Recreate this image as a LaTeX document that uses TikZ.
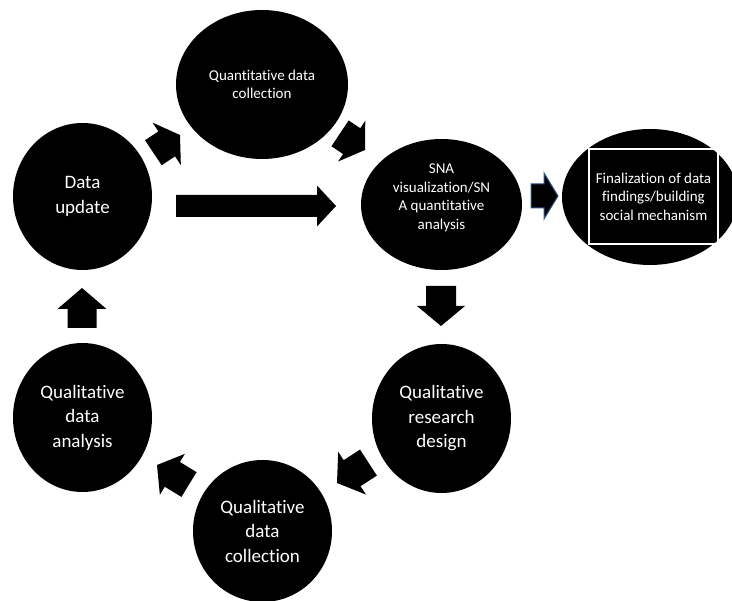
\documentclass[tikz,border=0pt]{standalone}
\usepackage{fontspec}
\setmainfont{Carlito}[Ligatures=NoCommon]
\usetikzlibrary{shapes.geometric}

\definecolor{arrowblue}{RGB}{47,82,143}

\tikzset{
  stage/.style={ellipse, fill=black, text=white, inner sep=0pt, align=center},
  bigtext/.style={font=\fontsize{19}{24.5}\selectfont},
  smalltext/.style={font=\fontsize{15}{18.5}\selectfont}
}

% block arrow: [options]{name}{tip}{angle}{length}{shaft}{head width}{head length}
\newcommand{\blockarrow}[8][fill=black]{%
  \begin{scope}[shift={#3}, rotate=#4]
    \coordinate (#2) at (0,0);
    \filldraw[#1] (#2) -- (-#8,#7/2) -- (-#8,#6/2) -- (-#5,#6/2)
      -- (-#5,-#6/2) -- (-#8,-#6/2) -- (-#8,-#7/2) -- cycle;
  \end{scope}}

\begin{document}
\begin{tikzpicture}[x=1pt, y=-1pt]
\useasboundingbox (0,0) rectangle (732,601);
\clip (0,0) rectangle (732,601);

% stages of the cycle
\node[stage, smalltext, minimum width=172, minimum height=149] (quant) at (262,84.5) {Quantitative data\\collection};
\node[stage, bigtext, minimum width=139, minimum height=147] (update) at (82.5,196.5) {Data\\update};
\node[stage, minimum width=161, minimum height=131] (sna) at (441.5,204.5) {};
\node[text=white, smalltext, align=center] (snatext) at (441.5,198) {SNA\\visualization/SN\\A quantitative\\analysis};
\node[stage, bigtext, minimum width=139, minimum height=149] (design) at (441.5,418.5) {Qualitative\\research\\design};
\node[stage, bigtext, minimum width=139, minimum height=149] (analysis) at (82.5,417.5) {Qualitative\\data\\analysis};
\node[stage, bigtext, minimum width=139, minimum height=142] (collect) at (262.5,531) {Qualitative\\data\\collection};

% final stage
\node[stage, minimum width=176, minimum height=136] (final) at (650,197) {};
\node[draw=white, line width=1.2pt, text=white, smalltext, align=center,
  minimum width=129, minimum height=95, inner sep=0pt] (finalbox) at (653.5,196.5)
  {Finalization of data\\findings/building\\social mechanism};

% block arrows
\blockarrow[fill=black, draw=none]{a1}{(180,135)}{33.7}{32}{30}{51}{16}
\blockarrow[fill=black, draw=none]{a2}{(365,150)}{-33.7}{30}{31}{49}{16}
\blockarrow[fill=black, draw=none]{a3}{(336,206)}{0}{160}{22}{41}{19}
\blockarrow[fill=black, draw=arrowblue, line width=1pt]{a4}{(558,196)}{0}{27}{24}{46}{14}
\blockarrow[fill=black, draw=none]{a5}{(441,326)}{-90}{40}{30}{48}{20}
\blockarrow[fill=black, draw=none]{a6}{(337,483)}{-147}{37.5}{31}{51}{18}
\blockarrow[fill=black, draw=none]{a7}{(157,465)}{148.6}{37.5}{29}{48}{18}
\blockarrow[fill=black, draw=none]{a8}{(82,288)}{90}{40}{29}{49}{21}

\end{tikzpicture}
\end{document}
